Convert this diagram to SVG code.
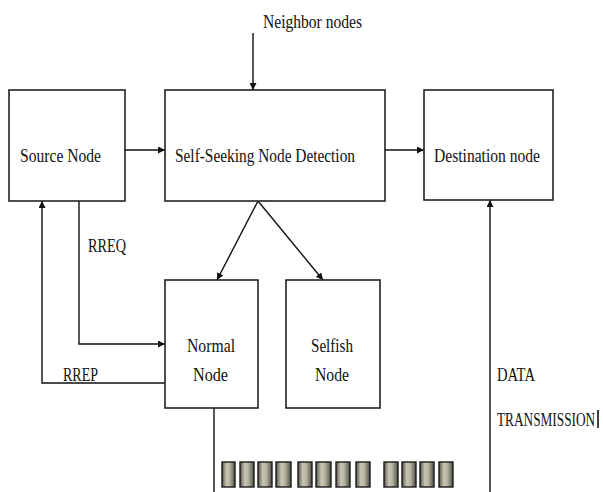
<svg xmlns="http://www.w3.org/2000/svg" width="603" height="492" viewBox="0 0 603 492">
<style>
.box{fill:#fff;stroke:#222;stroke-width:1.6}
.ln{fill:none;stroke:#111;stroke-width:1.4}
.t{font-family:"Liberation Serif","Times New Roman",serif;font-size:19px;fill:#111}
.blk{fill:url(#g);stroke:#1a1a1a;stroke-width:1.4}
</style>
<defs>
<marker id="a" viewBox="0 0 10 10" refX="10" refY="5" markerWidth="7" markerHeight="7" markerUnits="userSpaceOnUse" orient="auto">
<path d="M0,0 L10,5 L0,10 z" fill="#111"/>
</marker>
<linearGradient id="g" x1="0" y1="0" x2="1" y2="0">
<stop offset="0" stop-color="#55554c"/>
<stop offset="0.35" stop-color="#c9c7b4"/>
<stop offset="0.6" stop-color="#b5b3a0"/>
<stop offset="1" stop-color="#4d4d45"/>
</linearGradient>
</defs>
<g id="connectors">
<line class="ln" x1="253" y1="33" x2="253" y2="90" marker-end="url(#a)"/>
<line class="ln" x1="125" y1="150" x2="165" y2="150" marker-end="url(#a)"/>
<line class="ln" x1="385" y1="150" x2="424" y2="150" marker-end="url(#a)"/>
<line class="ln" x1="258" y1="201" x2="217" y2="280" marker-end="url(#a)"/>
<line class="ln" x1="258" y1="201" x2="323" y2="280" marker-end="url(#a)"/>
<polyline class="ln" points="79,201 79,344 165,344" marker-end="url(#a)"/>
<polyline class="ln" points="165,383 42,383 42,201" marker-end="url(#a)"/>
<line class="ln" x1="214" y1="408" x2="214" y2="492"/>
<line class="ln" x1="490" y1="492" x2="490" y2="200" marker-end="url(#a)"/>
<text class="t" x="88" y="252" textLength="38" lengthAdjust="spacingAndGlyphs">RREQ</text>
<text class="t" x="63" y="381" textLength="35" lengthAdjust="spacingAndGlyphs">RREP</text>
<text class="t" x="497" y="381" textLength="38" lengthAdjust="spacingAndGlyphs">DATA</text>
<text class="t" transform="translate(497,426) scale(0.7,1)" x="0" y="0">TRANSMISSION</text>
<line x1="598" y1="410" x2="598" y2="428" stroke="#111" stroke-width="1.6"/>
</g>
<g id="neighbor">
<text class="t" x="263" y="28" textLength="99" lengthAdjust="spacingAndGlyphs">Neighbor nodes</text>
</g>
<g id="source">
<rect class="box" x="9" y="90" width="116" height="111"/>
<text class="t" x="20" y="162" textLength="81" lengthAdjust="spacingAndGlyphs">Source Node</text>
</g>
<g id="detection">
<rect class="box" x="165" y="90" width="220" height="111"/>
<text class="t" x="175" y="162" textLength="180" lengthAdjust="spacingAndGlyphs">Self-Seeking Node Detection</text>
</g>
<g id="destination">
<rect class="box" x="424" y="90" width="129" height="110"/>
<text class="t" x="434" y="162" textLength="106" lengthAdjust="spacingAndGlyphs">Destination node</text>
</g>
<g id="normal">
<rect class="box" x="165" y="280" width="93" height="128"/>
<text class="t" x="187" y="352" textLength="48" lengthAdjust="spacingAndGlyphs">Normal</text>
<text class="t" x="193" y="381" textLength="35" lengthAdjust="spacingAndGlyphs">Node</text>
</g>
<g id="selfish">
<rect class="box" x="286" y="280" width="94" height="128"/>
<text class="t" x="311" y="352" textLength="42" lengthAdjust="spacingAndGlyphs">Selfish</text>
<text class="t" x="315" y="381" textLength="34" lengthAdjust="spacingAndGlyphs">Node</text>
</g>
<g id="buffer">
<rect class="blk" x="222" y="462" width="13" height="25"/>
<rect class="blk" x="240" y="462" width="14" height="25"/>
<rect class="blk" x="258" y="462" width="14" height="25"/>
<rect class="blk" x="276" y="462" width="15" height="25"/>
<rect class="blk" x="298" y="462" width="14" height="25"/>
<rect class="blk" x="316" y="462" width="15" height="25"/>
<rect class="blk" x="336" y="462" width="14" height="25"/>
<rect class="blk" x="356" y="462" width="14" height="25"/>
<rect class="blk" x="384" y="462" width="14" height="25"/>
<rect class="blk" x="402" y="462" width="14" height="25"/>
<rect class="blk" x="420" y="462" width="14" height="25"/>
<rect class="blk" x="439" y="462" width="14" height="25"/>
</g>
</svg>
